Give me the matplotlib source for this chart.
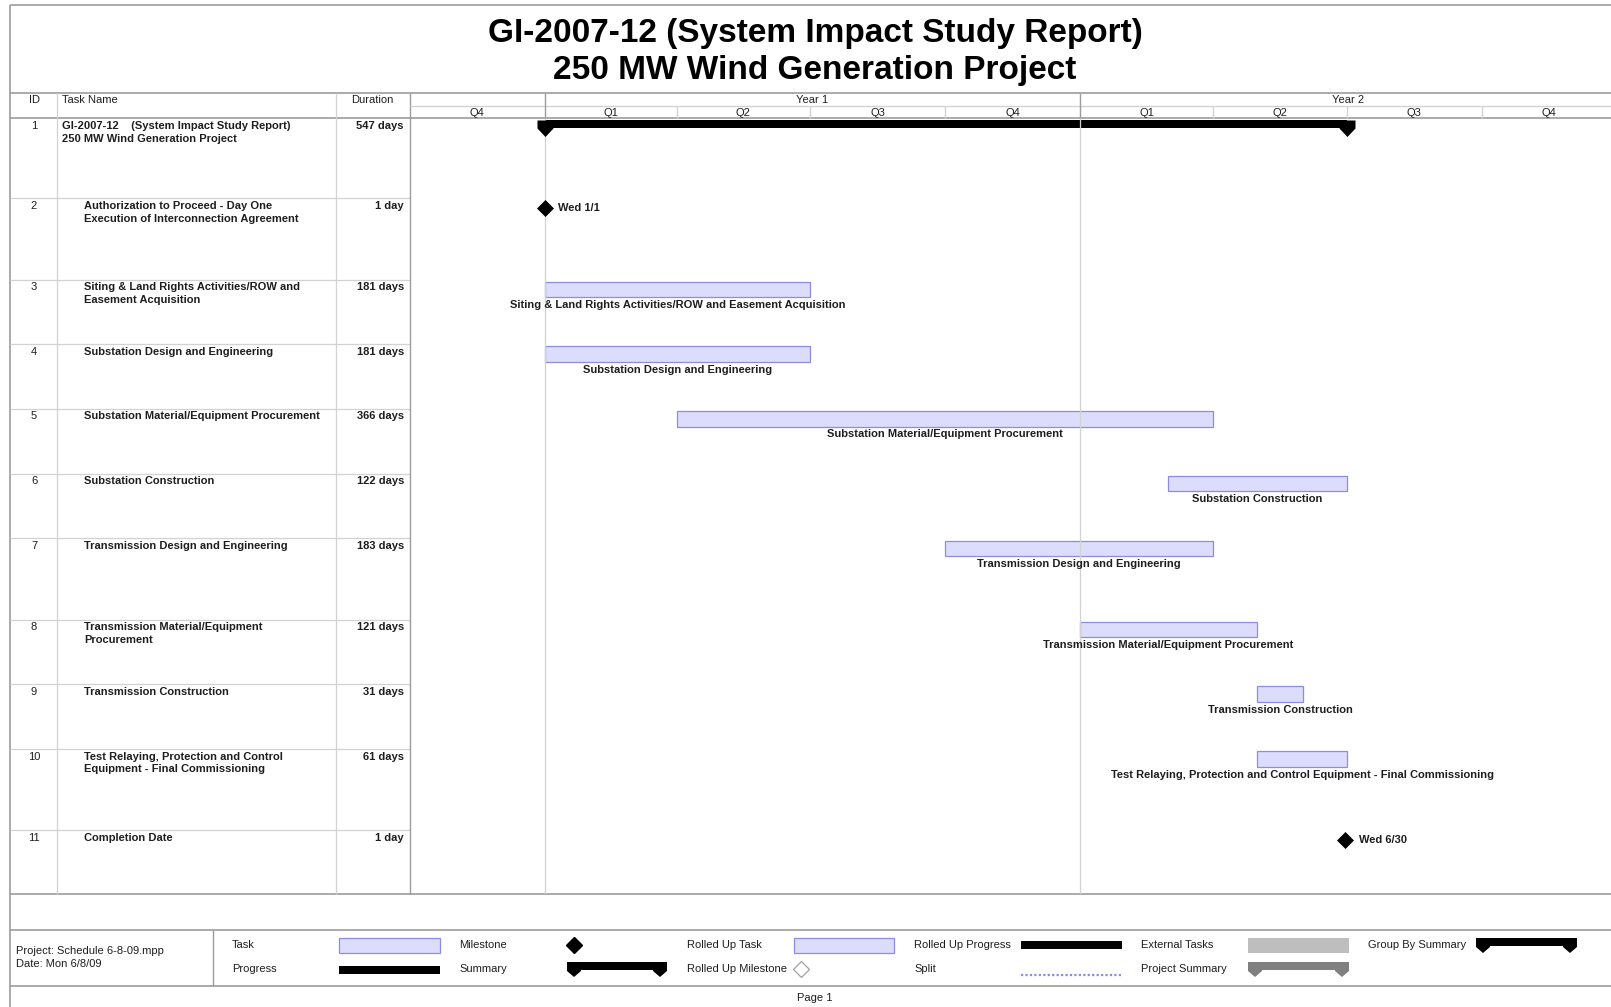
import matplotlib
matplotlib.use("Agg")
import matplotlib.pyplot as plt
from matplotlib.patches import Rectangle, Polygon

plt.rcParams['font.family'] = ['Liberation Sans', 'DejaVu Sans']

# ---------------- data ----------------
title_lines = ["GI-2007-12 (System Impact Study Report)", "250 MW Wind Generation Project"]
task_ids = [1, 2, 3, 4, 5, 6, 7, 8, 9, 10, 11]
task_names = [
    "GI-2007-12    (System Impact Study Report)\n250 MW Wind Generation Project",
    "Authorization to Proceed - Day One\nExecution of Interconnection Agreement",
    "Siting & Land Rights Activities/ROW and\nEasement Acquisition",
    "Substation Design and Engineering",
    "Substation Material/Equipment Procurement",
    "Substation Construction",
    "Transmission Design and Engineering",
    "Transmission Material/Equipment\nProcurement",
    "Transmission Construction",
    "Test Relaying, Protection and Control\nEquipment - Final Commissioning",
    "Completion Date",
]
durations = ["547 days", "1 day", "181 days", "181 days", "366 days", "122 days",
             "183 days", "121 days", "31 days", "61 days", "1 day"]
task_kind = ["summary", "milestone", "task", "task", "task", "task",
             "task", "task", "task", "task", "milestone"]
# start as day offset from Jan 1 of Year 1, span in calendar days
start_day = [0, 0, 0, 0, 90, 425, 273, 365, 486, 486, 546]
span_days = [547, 0, 181, 181, 366, 122, 183, 121, 31, 61, 0]
bar_labels = ["", "Wed 1/1",
              "Siting & Land Rights Activities/ROW and Easement Acquisition",
              "Substation Design and Engineering",
              "Substation Material/Equipment Procurement",
              "Substation Construction",
              "Transmission Design and Engineering",
              "Transmission Material/Equipment Procurement",
              "Transmission Construction",
              "Test Relaying, Protection and Control Equipment - Final Commissioning",
              "Wed 6/30"]
quarter_starts = [-92, 0, 90, 181, 273, 365, 456, 547, 639, 731]
quarter_labels = ["Q4", "Q1", "Q2", "Q3", "Q4", "Q1", "Q2", "Q3", "Q4"]
year_starts = [0, 365, 731]
year_labels = ["Year 1", "Year 2"]
project_info = ["Project: Schedule 6-8-09.mpp", "Date: Mon 6/8/09"]
legend_col1 = ["Task", "Progress"]
legend_col2 = ["Milestone", "Summary"]
legend_col3 = ["Rolled Up Task", "Rolled Up Milestone"]
legend_col4 = ["Rolled Up Progress", "Split"]
legend_col5 = ["External Tasks", "Project Summary"]
legend_col6 = ["Group By Summary"]

# ---------------- layout (pixels) ----------------
W, H = 1611, 1007
FRAME_L, FRAME_T = 10.3, 4.6
HDR_T, HDR_M, HDR_B = 92.5, 105.8, 118.2
ROW_EDGES = [118.2, 198.3, 279.5, 344.2, 408.9, 473.6, 538.4, 619.5, 684.2, 749.0, 830.1, 893.8]
TBL_B = ROW_EDGES[-1]
COL_ID, COL_DUR, CHART_L = 57.0, 336.0, 409.6
LEG_T, LEG_B, LEG_DIV = 930.0, 986.0, 212.7
PX_PER_DAY = 1.4667
X_MIN = quarter_starts[0]
X_MAX = X_MIN + (W - CHART_L) / PX_PER_DAY

LINE_DARK = "#9C9C9C"
LINE_LIGHT = "#D2D2D2"
TXT = "#1E1E1E"
TASK_FC = "#DCDCFC"
TASK_EC = "#8C8CE6"
FS = 8

fig = plt.figure(figsize=(W / 100, H / 100), dpi=100)
ax = fig.add_axes([0, 0, 1, 1])
ax.set_xlim(0, W)
ax.set_ylim(H, 0)
ax.axis("off")

# frame and table grid
ax.hlines(FRAME_T, FRAME_L, W, color=LINE_DARK, lw=1.2)
ax.vlines(FRAME_L, FRAME_T, H, color=LINE_DARK, lw=1.2)
ax.hlines([HDR_T, HDR_B, TBL_B, LEG_T, LEG_B], FRAME_L, W, color=LINE_DARK, lw=1.2)
ax.hlines(ROW_EDGES[1:-1], FRAME_L, CHART_L, color=LINE_LIGHT, lw=0.9)
ax.vlines([COL_ID, COL_DUR], HDR_T, TBL_B, color=LINE_LIGHT, lw=0.9)
ax.vlines(CHART_L, HDR_T, TBL_B, color=LINE_DARK, lw=1.0)
ax.vlines(LEG_DIV, LEG_T, LEG_B, color=LINE_DARK, lw=1.0)

# title
ax.text(815, 42, title_lines[0], ha="center", va="baseline", fontsize=24,
        fontweight="bold", color="black")
ax.text(815, 79, title_lines[1], ha="center", va="baseline", fontsize=24,
        fontweight="bold", color="black")

# table header
ax.text(34, 99.7, "ID", ha="center", va="center", fontsize=FS, color=TXT)
ax.text(61.6, 99.7, "Task Name", ha="left", va="center", fontsize=FS, color=TXT)
ax.text(372, 99.7, "Duration", ha="center", va="center", fontsize=FS, color=TXT)

# table rows
for i, tid in enumerate(task_ids):
    top = ROW_EDGES[i]
    ax.text(34, top + 7.5, str(tid), ha="center", va="center", fontsize=FS, color=TXT)
    xname = 61.6 if task_kind[i] == "summary" else 84.2
    for k, line in enumerate(task_names[i].split("\n")):
        ax.text(xname, top + 7.5 + 13.0 * k, line, ha="left", va="center",
                fontsize=FS, fontweight="bold", color=TXT)
    ax.text(404, top + 7.5, durations[i], ha="right", va="center", fontsize=FS,
            fontweight="bold", color=TXT)

# ---------------- gantt axes ----------------
gx = fig.add_axes([CHART_L / W, 1 - TBL_B / H, 1 - CHART_L / W, (TBL_B - HDR_T) / H])
gx.set_xlim(X_MIN, X_MAX)
gx.set_ylim(TBL_B, HDR_T)
gx.axis("off")
gx.patch.set_alpha(0)

# timescale header
gx.hlines(HDR_M, X_MIN, X_MAX, color=LINE_LIGHT, lw=1.0)
gx.vlines(year_starts[:-1], HDR_T, HDR_B, color=LINE_DARK, lw=1.0)
inner_q = [q for q in quarter_starts[1:-1] if q not in year_starts]
gx.vlines(inner_q, HDR_M, HDR_B, color=LINE_LIGHT, lw=1.0)
gx.vlines(year_starts[:-1], HDR_B, TBL_B, color=LINE_LIGHT, lw=0.9)
for q0, q1, lab in zip(quarter_starts[:-1], quarter_starts[1:], quarter_labels):
    gx.text((q0 + q1) / 2, 112.5, lab, ha="center", va="center", fontsize=FS, color=TXT)
for y0, y1, lab in zip(year_starts[:-1], year_starts[1:], year_labels):
    gx.text((y0 + y1) / 2, 99.7, lab, ha="center", va="center", fontsize=FS, color=TXT)

# summary cap marker (pixel-shaped end caps)
cap = [(-8, 4.0), (8, 4.0), (8, -4.0), (0, -12.5), (-8, -4.0), (-8, 4.0)]

for i in range(len(task_ids)):
    top = ROW_EDGES[i]
    s, d = start_day[i], span_days[i]
    if task_kind[i] == "summary":
        yc = top + 5.8
        gx.barh(yc, d, left=s, height=8.0, color="black", lw=0)
        gx.plot([s, s + d], [yc, yc], ls="none", marker=cap, ms=18.0,
                color="black", mew=0)
    elif task_kind[i] == "milestone":
        yc = top + 10
        gx.plot([s], [yc], ls="none", marker="D", ms=8.5, color="black", mew=0.5)
        gx.annotate(bar_labels[i], (s, yc), xytext=(10, 0), textcoords="offset points",
                    ha="left", va="center", fontsize=FS, fontweight="bold", color=TXT)
    else:
        yc = top + 10
        gx.barh(yc, d, left=s, height=15.6, facecolor=TASK_FC, edgecolor=TASK_EC, lw=0.9)
        gx.text(s + d / 2, top + 25.5, bar_labels[i], ha="center", va="center",
                fontsize=FS, fontweight="bold", color=TXT)

# ---------------- legend ----------------
def summary_shape(x0, x1, top, color):
    pts = [(x0, top), (x1, top), (x1, top + 9), (x1 - 7, top + 15), (x1 - 14, top + 9),
           (x1 - 14, top + 8), (x0 + 14, top + 8), (x0 + 14, top + 9), (x0 + 7, top + 15),
           (x0, top + 9)]
    ax.add_patch(Polygon(pts, closed=True, facecolor=color, edgecolor="none"))

ax.text(16.4, 951, project_info[0], ha="left", va="center", fontsize=FS, color=TXT)
ax.text(16.4, 964, project_info[1], ha="left", va="center", fontsize=FS, color=TXT)

LEG_Y = [945, 969]
for col_x, labels in zip([232, 459, 687, 914, 1141, 1368],
                         [legend_col1, legend_col2, legend_col3, legend_col4, legend_col5, legend_col6]):
    for k, lab in enumerate(labels):
        ax.text(col_x, LEG_Y[k], lab, ha="left", va="center", fontsize=FS, color=TXT)

ax.add_patch(Rectangle((339, 938), 101, 15, facecolor=TASK_FC, edgecolor=TASK_EC, lw=0.9))
ax.add_patch(Rectangle((339, 966), 101, 8, facecolor="black", edgecolor="none"))
ax.plot([574], [945], ls="none", marker="D", ms=8, color="black")
summary_shape(567, 667, 962, "black")
ax.add_patch(Rectangle((794, 938), 100, 15, facecolor=TASK_FC, edgecolor=TASK_EC, lw=0.9))
ax.plot([801], [969], ls="none", marker="D", ms=8, mfc="white", mec="#A0A0A0", mew=0.9)
ax.add_patch(Rectangle((1021, 941), 101, 8, facecolor="black", edgecolor="none"))
ax.hlines(975, 1021, 1122, color=TASK_EC, lw=1.6, linestyles=(0, (1, 1)))
ax.add_patch(Rectangle((1248, 938), 101, 15, facecolor="#BEBEBE", edgecolor="none"))
summary_shape(1248, 1349, 962, "#808080")
summary_shape(1476, 1577, 938, "black")

ax.text(815, 997.6, "Page 1", ha="center", va="center", fontsize=FS, color=TXT)

fig.savefig("out.png", dpi=100)
